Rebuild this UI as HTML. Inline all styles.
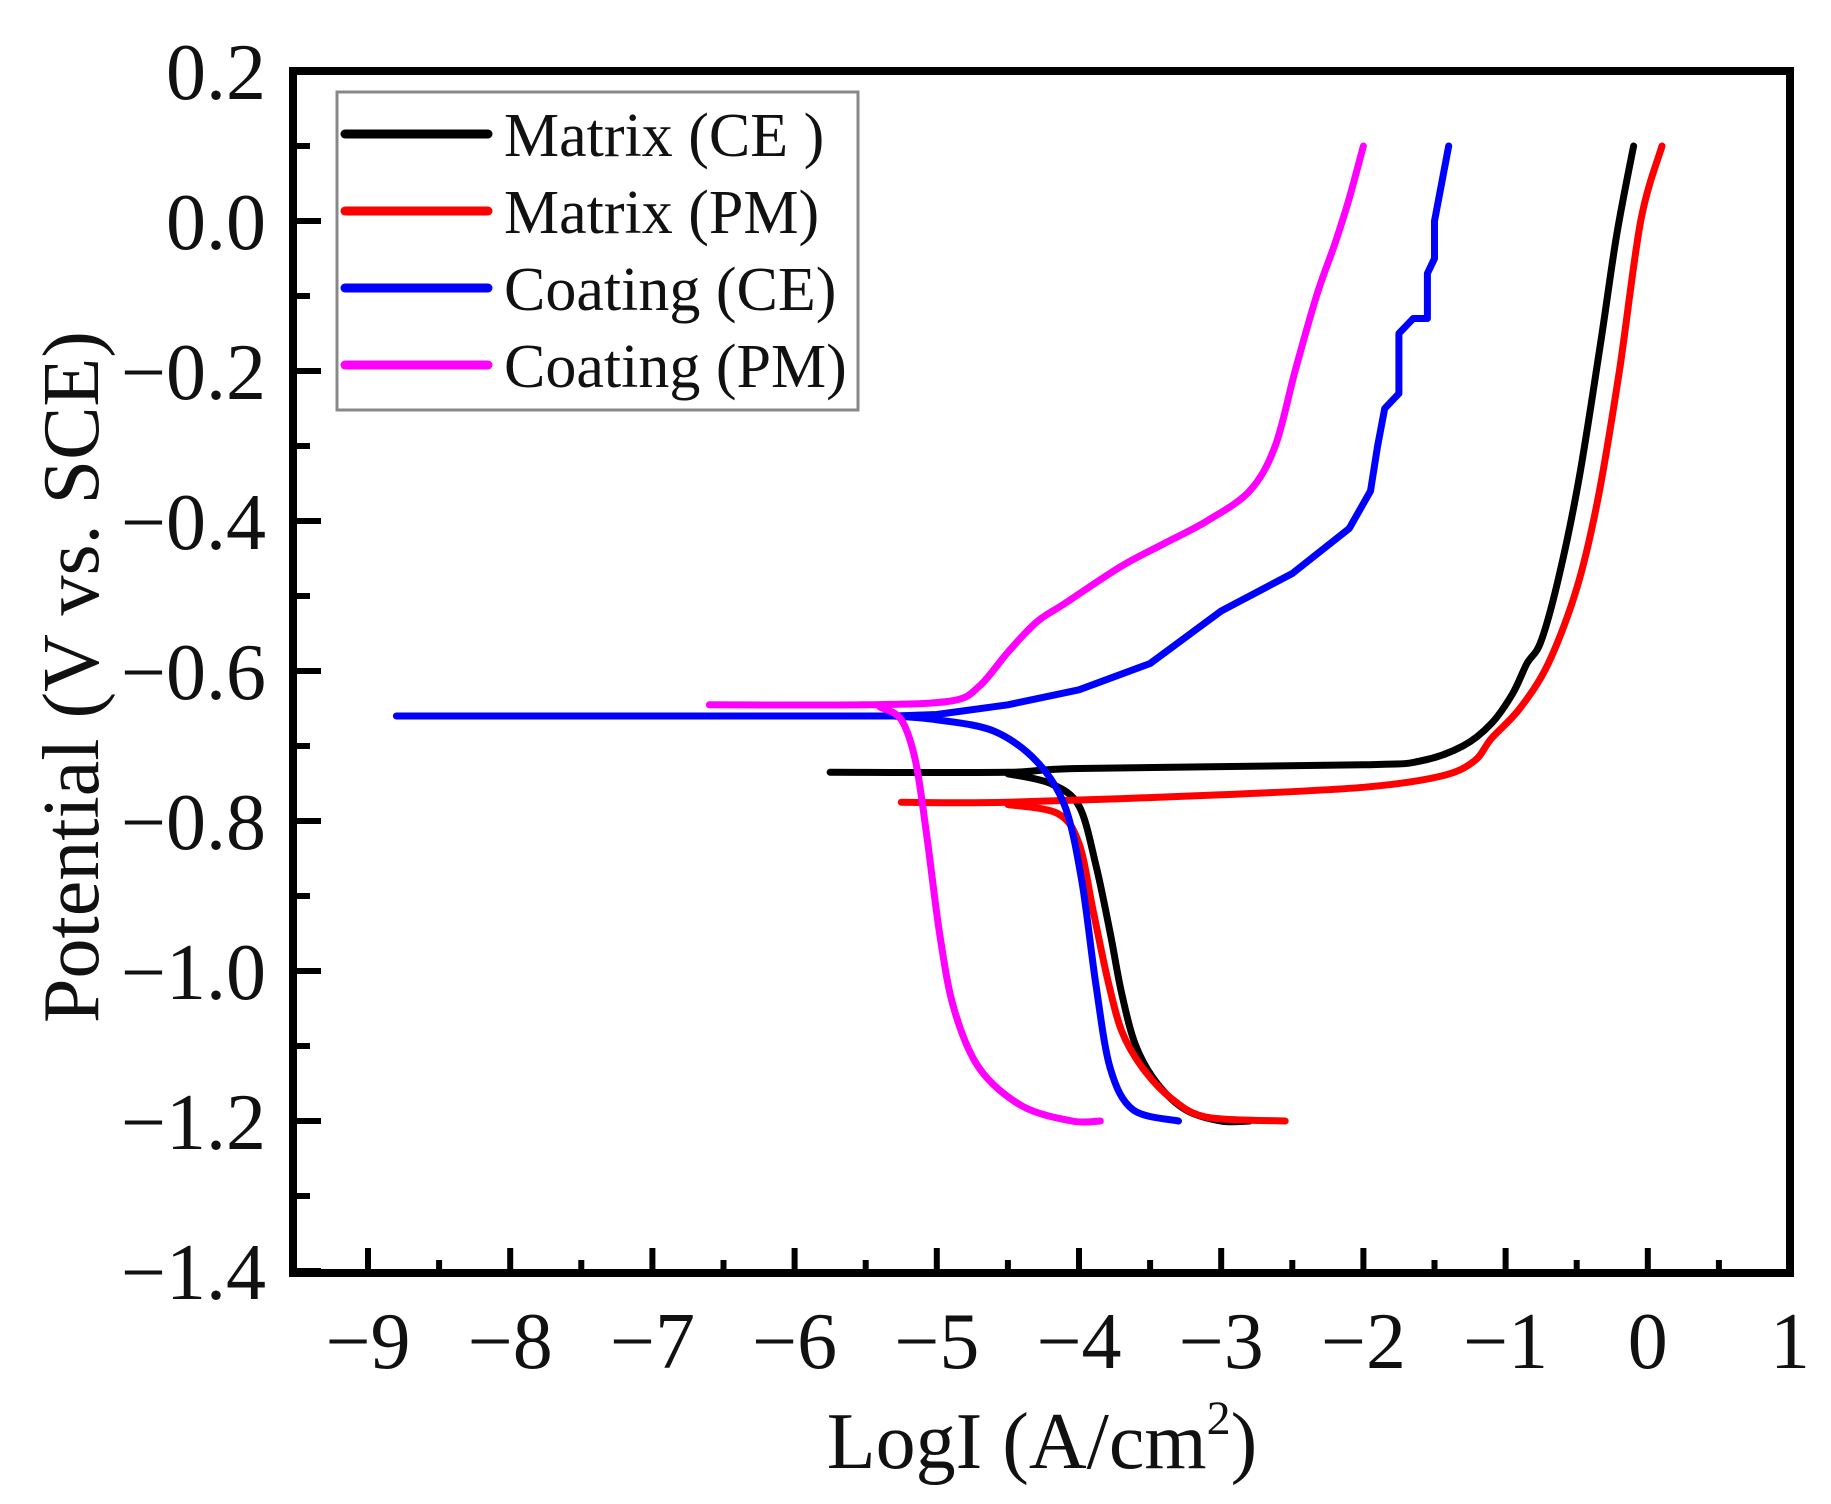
<!DOCTYPE html>
<html><head><meta charset="utf-8"><style>
html,body{margin:0;padding:0;background:#fff;}
svg{display:block;}
text{font-family:"Liberation Serif",serif;fill:#111;}
</style></head><body>
<svg id="s" width="1831" height="1504" viewBox="0 0 1831 1504" xmlns="http://www.w3.org/2000/svg">
<rect width="1831" height="1504" fill="#fff"/>
<g id="curves" fill="none" stroke-width="7" stroke-linejoin="round" stroke-linecap="round"></g>
<rect x="293" y="71" width="1497" height="1202" fill="none" stroke="#000" stroke-width="8"/>
<g id="ticks" stroke="#000" stroke-width="6"></g>
<g id="labels" font-size="80"></g>
<rect x="337" y="92" width="521" height="318" fill="none" stroke="#888" stroke-width="3"/>
<g stroke-width="9" stroke-linecap="round">
<line x1="345" y1="134" x2="488" y2="134" stroke="#000"/>
<line x1="345" y1="211" x2="488" y2="211" stroke="#f00"/>
<line x1="345" y1="288" x2="488" y2="288" stroke="#00f"/>
<line x1="345" y1="365" x2="488" y2="365" stroke="#f0f"/>
</g>
<g font-size="62">
<text x="504" y="156">Matrix (CE )</text>
<text x="504" y="233">Matrix (PM)</text>
<text x="504" y="310">Coating (CE)</text>
<text x="504" y="387">Coating (PM)</text>
</g>
<text x="1042" y="1468" font-size="80" text-anchor="middle">LogI (A/cm<tspan font-size="48" dy="-34">2</tspan><tspan dy="34">)</tspan></text>
<text transform="translate(98,677) rotate(-90)" font-size="80" text-anchor="middle">Potential (V vs. SCE)</text>
</svg>
<script>
var NS="http://www.w3.org/2000/svg";
function X(x){return 368+(x+9)*142.2;}
function Y(y){return 71+(0.2-y)*750;}
function el(p,t,a){var e=document.createElementNS(NS,t);for(var k in a)e.setAttribute(k,a[k]);p.appendChild(e);return e;}
var tk=document.getElementById('ticks'),lb=document.getElementById('labels');
for(var i=0;i<=16;i++){var v=0.2-i*0.1,y=Y(v),L=(i%2==0)?28:17;
 el(tk,'line',{x1:293,y1:y,x2:293+L,y2:y});
 if(i%2==0){var t=el(lb,'text',{x:266,y:y+28,'text-anchor':'end'});var s=v.toFixed(1);if(Math.abs(v)<1e-9)s="0.0";t.textContent=s.replace('-','\u2212');}}
for(var j=-9.5;j<=1.001;j+=0.5){var x=X(j),maj=Math.abs(j-Math.round(j))<1e-6,L=maj?25:13;
 if(j>-9.4&&j<0.99)el(tk,'line',{x1:x,y1:1273,x2:x,y2:1273-L});
 if(maj&&j>=-9){var t=el(lb,'text',{x:x,y:1368,'text-anchor':'middle'});t.textContent=String(Math.round(j)).replace('-','\u2212');}}
var data={
"#000":[[-5.75,-0.735],[-4.5,-0.735],[-4,-0.73],[-2,-0.725],[-1.6,-0.72],[-1.3,-0.70],[-1.1,-0.67],[-0.95,-0.63],[-0.85,-0.59],[-0.75,-0.56],[-0.62,-0.47],[-0.48,-0.34],[-0.33,-0.16],[-0.22,-0.02],[-0.1,0.1]],
"#000b":[[-4.5,-0.737],[-4.2,-0.75],[-4.0,-0.78],[-3.88,-0.86],[-3.78,-0.95],[-3.7,-1.03],[-3.6,-1.1],[-3.45,-1.15],[-3.25,-1.185],[-3.0,-1.2],[-2.8,-1.2]],
"#f00":[[-5.25,-0.775],[-4.5,-0.775],[-3,-0.765],[-2,-0.755],[-1.45,-0.74],[-1.22,-0.72],[-1.1,-0.69],[-0.9,-0.65],[-0.7,-0.59],[-0.5,-0.49],[-0.35,-0.37],[-0.2,-0.2],[-0.05,0.0],[0.1,0.1]],
"#f00b":[[-4.5,-0.778],[-4.15,-0.79],[-4.0,-0.83],[-3.9,-0.92],[-3.8,-1.01],[-3.7,-1.08],[-3.55,-1.13],[-3.35,-1.17],[-3.1,-1.195],[-2.55,-1.2]],
"#00f":[[-8.8,-0.66],[-5.3,-0.66],[-5,-0.658],[-4.5,-0.645],[-4,-0.625],[-3.5,-0.59],[-3,-0.52],[-2.5,-0.47],[-2.1,-0.41],[-1.95,-0.36],[-1.9,-0.3],[-1.85,-0.25],[-1.75,-0.23],[-1.75,-0.15],[-1.65,-0.13],[-1.55,-0.13],[-1.55,-0.07],[-1.5,-0.05],[-1.5,0],[-1.45,0.05],[-1.4,0.1]],
"#00fb":[[-5.3,-0.66],[-5,-0.665],[-4.6,-0.68],[-4.3,-0.72],[-4.1,-0.78],[-3.98,-0.88],[-3.88,-1.02],[-3.78,-1.13],[-3.62,-1.185],[-3.3,-1.2]],
"#f0f":[[-6.6,-0.645],[-5.5,-0.645],[-4.9,-0.64],[-4.7,-0.62],[-4.5,-0.575],[-4.3,-0.535],[-4.1,-0.51],[-3.7,-0.46],[-3.4,-0.43],[-3.1,-0.40],[-2.8,-0.36],[-2.62,-0.30],[-2.48,-0.2],[-2.33,-0.1],[-2.2,-0.03],[-2.1,0.03],[-2.0,0.1]],
"#f0fb":[[-5.4,-0.648],[-5.25,-0.665],[-5.15,-0.72],[-5.07,-0.82],[-4.98,-0.95],[-4.88,-1.05],[-4.7,-1.13],[-4.4,-1.18],[-4.05,-1.2],[-3.85,-1.2]]};
var g=document.getElementById('curves');
function smooth(pts){var p=pts.map(function(a){return [X(a[0]),Y(a[1])];});var d='M'+p[0][0].toFixed(1)+' '+p[0][1].toFixed(1);
 for(var i=0;i<p.length-1;i++){var p0=p[i-1]||p[i],p1=p[i],p2=p[i+1],p3=p[i+2]||p2,t=0.16;
  d+=' C'+(p1[0]+(p2[0]-p0[0])*t).toFixed(1)+' '+(p1[1]+(p2[1]-p0[1])*t).toFixed(1)+' '+(p2[0]-(p3[0]-p1[0])*t).toFixed(1)+' '+(p2[1]-(p3[1]-p1[1])*t).toFixed(1)+' '+p2[0].toFixed(1)+' '+p2[1].toFixed(1);}
 return d;}
["#000","#000b","#f00","#f00b","#00f","#00fb","#f0f","#f0fb"].forEach(function(k){
 var d=(k=="#00f")?data[k].map(function(p,i){return (i?'L':'M')+X(p[0]).toFixed(1)+' '+Y(p[1]).toFixed(1);}).join(' '):smooth(data[k]);
 el(g,'path',{d:d,stroke:k.substring(0,4)});});
</script>
</body></html>
